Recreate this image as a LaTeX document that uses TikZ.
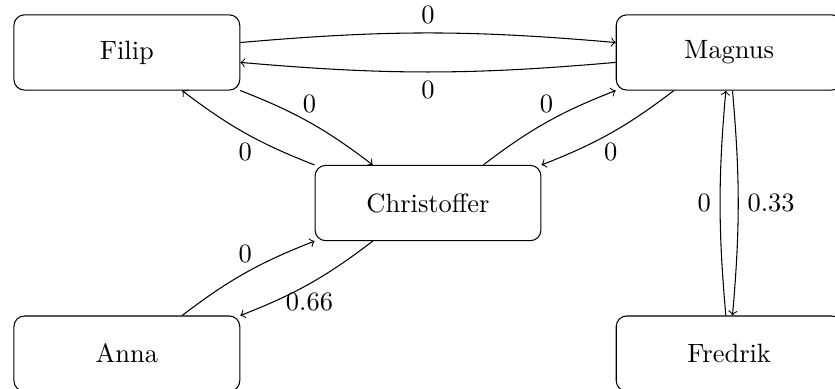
\documentclass[tikz,border=0pt]{standalone}
\usetikzlibrary{arrows}
\begin{document}
\begin{tikzpicture}[
  person/.style={draw, rounded corners, minimum width=3cm, minimum height=1cm},
  link/.style={->}
]
\useasboundingbox (-1.685,0.697) rectangle (9.406,-4.465);
\node[person] (F) at (0,0) {Filip};
\node[person] (M) at (8,0) {Magnus};
\node[person] (C) at (4,-2) {Christoffer};
\node[person] (A) at (0,-4) {Anna};
\node[person] (R) at (8,-4) {Fredrik};
\draw[link] (F) to[bend left=5] node[above] {0} (M);
\draw[link] (M) to[bend left=5] node[below] {0} (F);
\draw[link] (F) to[bend left=8] node[above] {0} (C);
\draw[link] (C) to[bend left=8] node[below] {0} (F);
\draw[link] (C) to[bend left=8] node[above] {0} (M);
\draw[link] (M) to[bend left=8] node[below] {0} (C);
\draw[link] (A) to[bend left=8] node[above] {0} (C);
\draw[link] (C) to[bend left=8] node[below] {0.66} (A);
\draw[link] (M) to[bend left=5] node[right] {0.33} (R);
\draw[link] (R) to[bend left=5] node[left] {0} (M);
\end{tikzpicture}
\end{document}
